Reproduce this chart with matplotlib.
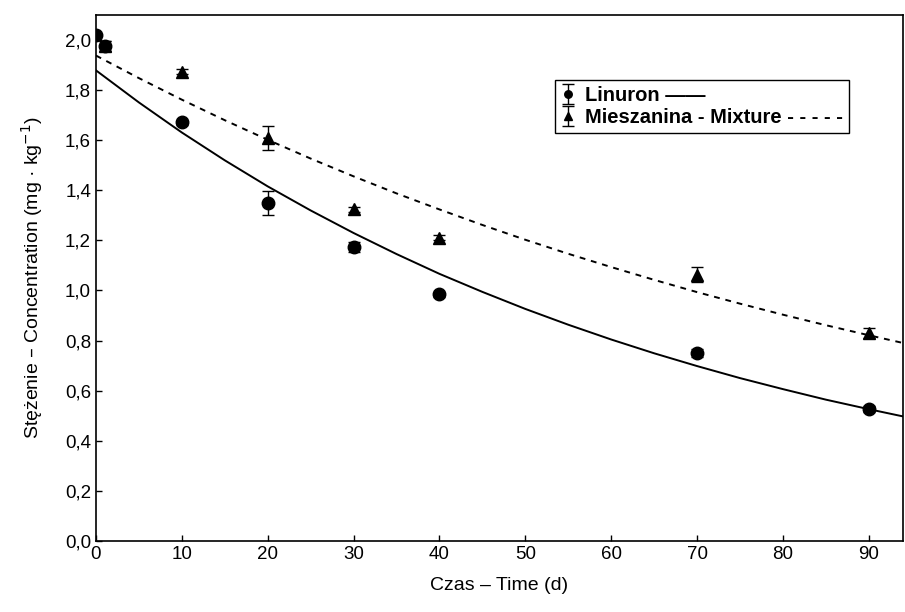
import matplotlib
matplotlib.use("Agg")
import matplotlib.pyplot as plt

# measured points (days, mg/kg) with error bars
lin_days = [0, 1, 10, 20, 30, 40, 70, 90]
lin_conc = [2.02, 1.975, 1.67, 1.35, 1.175, 0.985, 0.75, 0.527]
lin_err = [0.0, 0.02, 0.01, 0.048, 0.02, 0.01, 0.015, 0.012]

mix_days = [1, 10, 20, 30, 40, 70, 90]
mix_conc = [1.975, 1.872, 1.607, 1.323, 1.21, 1.062, 0.83]
mix_err = [0.02, 0.01, 0.048, 0.01, 0.01, 0.03, 0.02]

# fitted curves
fit_days = [0, 5, 10, 15, 20, 25, 30, 35, 40, 45, 50, 55, 60, 65, 70, 75, 80, 85, 90, 94]
lin_fit = [1.878, 1.750, 1.630, 1.519, 1.415, 1.319, 1.229, 1.145, 1.066, 0.994,
           0.926, 0.863, 0.804, 0.749, 0.698, 0.650, 0.606, 0.564, 0.526, 0.497]
mix_fit = [1.937, 1.847, 1.761, 1.679, 1.601, 1.526, 1.455, 1.387, 1.323, 1.261,
           1.202, 1.146, 1.093, 1.042, 0.993, 0.947, 0.903, 0.861, 0.821, 0.790]

x_ticks = [0, 10, 20, 30, 40, 50, 60, 70, 80, 90]
y_ticks = [0.0, 0.2, 0.4, 0.6, 0.8, 1.0, 1.2, 1.4, 1.6, 1.8, 2.0]

plt.rcParams['font.family'] = ['Liberation Sans', 'DejaVu Sans']

fig = plt.figure(figsize=(9.05, 6.12), dpi=100)
ax = fig.add_axes([0.106, 0.116, 0.892, 0.86])

ax.plot(fit_days, lin_fit, color='black', lw=1.4)
ax.plot(fit_days, mix_fit, color='black', lw=1.4, ls=(0, (3, 3)))

h1 = ax.errorbar(lin_days, lin_conc, yerr=lin_err, fmt='o', color='black',
                 ms=9, capsize=4, elinewidth=1, capthick=1)
h2 = ax.errorbar(mix_days, mix_conc, yerr=mix_err, fmt='^', color='black',
                 ms=9, capsize=4, elinewidth=1, capthick=1)

ax.set_xlim(0, 94)
ax.set_ylim(0, 2.1)
ax.set_xticks(x_ticks)
ax.set_yticks(y_ticks)
ax.set_yticklabels([f"{v:.1f}".replace('.', ',') for v in y_ticks])
ax.tick_params(direction='in', length=4, labelsize=13.5, width=1)
for s in ax.spines.values():
    s.set_linewidth(1.2)

ax.set_xlabel('Czas – Time (d)', fontsize=14, labelpad=10)
ax.set_ylabel('Stężenie – Concentration (mg · kg$^{-1}$)', fontsize=14, labelpad=14)

leg = ax.legend([h1, h2], ['Linuron ——', 'Mieszanina - Mixture - - - - -'],
                loc='upper left', bbox_to_anchor=(0.569, 0.876), borderaxespad=0,
                fancybox=False, edgecolor='black', framealpha=1,
                handlelength=0.7, handletextpad=0.5,
                borderpad=0.3, labelspacing=0.15, markerscale=0.6,
                prop={'weight': 'bold', 'size': 14.5})
leg.get_frame().set_linewidth(1.0)

fig.savefig('out.png', dpi=100)
